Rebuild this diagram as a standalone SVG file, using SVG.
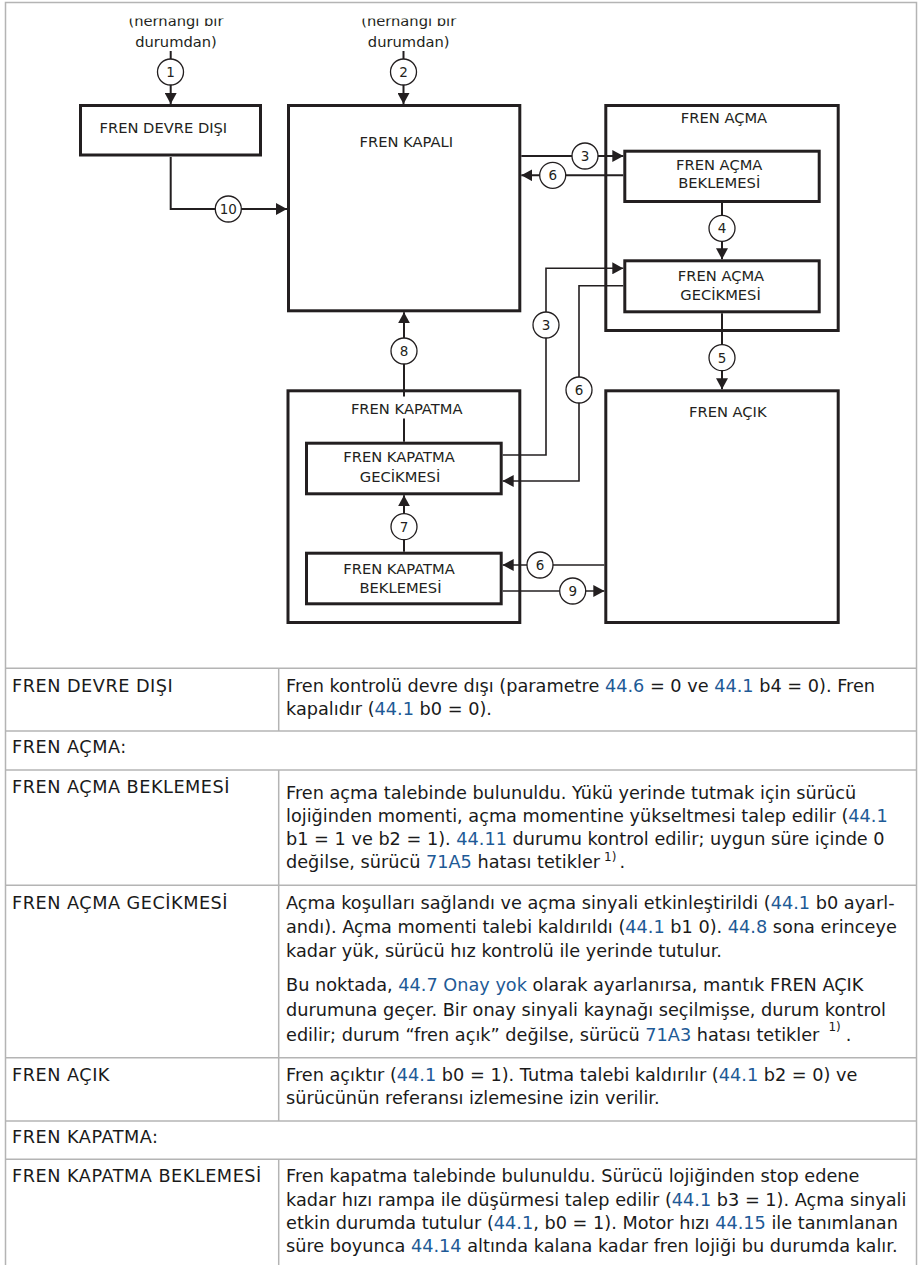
<svg xmlns="http://www.w3.org/2000/svg" width="919" height="1265" viewBox="0 0 919 1265">
<defs>
<style>
.box{fill:#fff;stroke:#231f20;stroke-width:3}
.lbl{font-family:"DejaVu Sans",sans-serif;font-size:14.7px;fill:#231f20}
.mid{text-anchor:middle}
.c{fill:#fff;stroke:#231f20;stroke-width:1.3}
.num{font-family:"DejaVu Sans",sans-serif;font-size:13.5px;text-anchor:middle;fill:#231f20}
.ln{fill:none;stroke:#231f20;stroke-width:2}
.ln2{fill:none;stroke:#231f20;stroke-width:1.6}
.grid{stroke:#b4b4b4;stroke-width:1.5;fill:none}
.t{font-family:"DejaVu Sans",sans-serif;font-size:17.7px;fill:#1a1a1a}
.h{letter-spacing:0.5px}
.lk{fill:#1e5a96}
</style>
<marker id="ah" markerUnits="userSpaceOnUse" markerWidth="11" markerHeight="12" refX="11" refY="6" orient="auto" viewBox="0 0 11 12"><path d="M0,0 L11,6 L0,12 z" fill="#231f20"/></marker>
<clipPath id="clipTop"><rect x="0" y="18.5" width="919" height="60"/></clipPath>
</defs>
<rect x="0" y="0" width="919" height="1265" fill="#fff"/>

<!-- frame and table grid -->
<g id="frame" class="grid">
<rect x="5.5" y="2.5" width="911" height="1275"/>
<line x1="5" y1="668.3" x2="917" y2="668.3"/>
<line x1="5" y1="731" x2="917" y2="731"/>
<line x1="5" y1="770" x2="917" y2="770"/>
<line x1="5" y1="885.3" x2="917" y2="885.3"/>
<line x1="5" y1="1057.7" x2="917" y2="1057.7"/>
<line x1="5" y1="1121" x2="917" y2="1121"/>
<line x1="5" y1="1159.3" x2="917" y2="1159.3"/>
<line x1="278.7" y1="668.3" x2="278.7" y2="731"/>
<line x1="278.7" y1="770" x2="278.7" y2="1121"/>
<line x1="278.7" y1="1159.3" x2="278.7" y2="1265"/>
</g>

<!-- source labels -->
<g id="sources" class="lbl mid">
<text x="176" y="26" clip-path="url(#clipTop)">(herhangi bir</text>
<text x="176" y="46.7">durumdan)</text>
<text x="408.7" y="26" clip-path="url(#clipTop)">(herhangi bir</text>
<text x="408.7" y="46.7">durumdan)</text>
</g>

<!-- nodes -->
<g id="n-devre-disi">
<rect class="box" x="80.5" y="105.5" width="180" height="49.5"/>
<text class="lbl" x="99.5" y="132.7">FREN DEVRE DIŞI</text>
</g>
<g id="n-kapali">
<rect class="box" x="288.5" y="105.5" width="231.3" height="205.3"/>
<text class="lbl" x="359.5" y="146.7">FREN KAPALI</text>
</g>
<g id="n-acma">
<rect class="box" x="605.8" y="105.5" width="232.4" height="225"/>
<text class="lbl mid" x="724" y="123.3">FREN AÇMA</text>
</g>
<g id="n-acma-beklemesi">
<rect class="box" x="624.8" y="151.2" width="194.4" height="50.3"/>
<text class="lbl mid" x="719.2" y="170">FREN AÇMA</text>
<text class="lbl mid" x="719.2" y="188.3">BEKLEMESİ</text>
</g>
<g id="n-acma-gecikmesi">
<rect class="box" x="624.8" y="260.8" width="194.4" height="51"/>
<text class="lbl mid" x="721" y="281">FREN AÇMA</text>
<text class="lbl mid" x="720.5" y="300">GECİKMESİ</text>
</g>
<g id="n-acik">
<rect class="box" x="605.8" y="390.8" width="232.4" height="231.7"/>
<text class="lbl mid" x="727.8" y="416.7">FREN AÇIK</text>
</g>
<g id="n-kapatma">
<rect class="box" x="288" y="390.8" width="231.8" height="231.7"/>
</g>
<g id="n-kapatma-gecikmesi">
<rect class="box" x="306.5" y="443.2" width="194.7" height="50.6"/>
<text class="lbl mid" x="399" y="462.3">FREN KAPATMA</text>
<text class="lbl mid" x="400" y="481.7">GECİKMESİ</text>
</g>
<g id="n-kapatma-beklemesi">
<rect class="box" x="306.5" y="553.2" width="194.7" height="50.6"/>
<text class="lbl mid" x="399" y="574">FREN KAPATMA</text>
<text class="lbl mid" x="400.5" y="593.3">BEKLEMESİ</text>
</g>

<!-- connectors -->
<g id="connectors">
<g id="c1"><path class="ln" d="M170.7,51 V104" marker-end="url(#ah)"/><circle class="c" cx="170.5" cy="72" r="13"/><text class="num" x="170.5" y="77">1</text></g>
<g id="c2"><path class="ln" d="M403.5,51 V104" marker-end="url(#ah)"/><circle class="c" cx="403.5" cy="72" r="13"/><text class="num" x="403.5" y="77">2</text></g>
<g id="c10"><path class="ln" d="M170.7,157 V209 H287" marker-end="url(#ah)"/><circle class="c" cx="228.3" cy="209" r="13"/><text class="num" x="228.3" y="214">10</text></g>
<g id="c3a"><path class="ln" d="M521.3,156 H623.3" marker-end="url(#ah)"/><circle class="c" cx="585" cy="156" r="13"/><text class="num" x="585" y="161">3</text></g>
<g id="c6a"><path class="ln" d="M623.3,175.3 H521.3" marker-end="url(#ah)"/><circle class="c" cx="552.7" cy="175.3" r="13"/><text class="num" x="552.7" y="180.3">6</text></g>
<g id="c4"><path class="ln" d="M722,203 V259.3" marker-end="url(#ah)"/><circle class="c" cx="722" cy="228.3" r="13"/><text class="num" x="722" y="233.3">4</text></g>
<g id="c5"><path class="ln" d="M722,313.3 V389.3" marker-end="url(#ah)"/><circle class="c" cx="722" cy="357.7" r="13"/><text class="num" x="722" y="362.7">5</text></g>
<g id="c8"><path class="ln" d="M404,441.7 V418.5 M404,396.5 V312.3" marker-end="url(#ah)"/><circle class="c" cx="404" cy="351" r="13"/><text class="num" x="404" y="356">8</text>
<text class="lbl mid" x="406.7" y="414">FREN KAPATMA</text></g>
<g id="c7"><path class="ln" d="M404,551.7 V495.3" marker-end="url(#ah)"/><circle class="c" cx="404" cy="526.7" r="13"/><text class="num" x="404" y="531.7">7</text></g>
<g id="c3b"><path class="ln2" d="M502.7,455 H546 V268.3 H623.3" marker-end="url(#ah)"/><circle class="c" cx="546" cy="325" r="13"/><text class="num" x="546" y="330">3</text></g>
<g id="c6b"><path class="ln2" d="M623.3,285.7 H579 V481 H502.7" marker-end="url(#ah)"/><circle class="c" cx="579" cy="390" r="13"/><text class="num" x="579" y="395">6</text></g>
<g id="c6c"><path class="ln2" d="M604.3,565 H502.7" marker-end="url(#ah)"/><circle class="c" cx="540" cy="565" r="13"/><text class="num" x="540" y="570">6</text></g>
<g id="c9"><path class="ln2" d="M502.7,591 H604.3" marker-end="url(#ah)"/><circle class="c" cx="572.7" cy="591" r="13"/><text class="num" x="572.7" y="596">9</text></g>
</g>

<!-- table text -->
<g id="table" class="t">
<text class="h" x="12" y="691.7">FREN DEVRE DIŞI</text>
<text x="286" y="691.7">Fren kontrolü devre dışı (parametre <tspan class="lk">44.6</tspan> = 0 ve <tspan class="lk">44.1</tspan> b4 = 0). Fren</text>
<text x="286" y="715">kapalıdır (<tspan class="lk">44.1</tspan> b0 = 0).</text>

<text class="h" x="12" y="752.7">FREN AÇMA:</text>

<text class="h" x="12" y="793.3">FREN AÇMA BEKLEMESİ</text>
<text x="286" y="799">Fren açma talebinde bulunuldu. Yükü yerinde tutmak için sürücü</text>
<text x="286" y="822">lojiğinden momenti, açma momentine yükseltmesi talep edilir (<tspan class="lk">44.1</tspan></text>
<text x="286" y="845">b1 = 1 ve b2 = 1). <tspan class="lk">44.11</tspan> durumu kontrol edilir; uygun süre içinde 0</text>
<text x="286" y="868">değilse, sürücü <tspan class="lk">71A5</tspan> hatası tetikler<tspan dx="4" dy="-7" font-size="12">1)</tspan><tspan dx="3" dy="7">.</tspan></text>

<text class="h" x="12" y="909.3">FREN AÇMA GECİKMESİ</text>
<text x="286" y="909.3">Açma koşulları sağlandı ve açma sinyali etkinleştirildi (<tspan class="lk">44.1</tspan> b0 ayarl-</text>
<text x="286" y="933">andı). Açma momenti talebi kaldırıldı (<tspan class="lk">44.1</tspan> b1 0). <tspan class="lk">44.8</tspan> sona erinceye</text>
<text x="286" y="956.7">kadar yük, sürücü hız kontrolü ile yerinde tutulur.</text>
<text x="286" y="991">Bu noktada, <tspan class="lk">44.7 Onay yok</tspan> olarak ayarlanırsa, mantık FREN AÇIK</text>
<text x="286" y="1016">durumuna geçer. Bir onay sinyali kaynağı seçilmişse, durum kontrol</text>
<text x="286" y="1041">edilir; durum “fren açık” değilse, sürücü <tspan class="lk">71A3</tspan> hatası tetikler<tspan dx="9" dy="-10" font-size="12">1)</tspan><tspan dx="5" dy="10">.</tspan></text>

<text class="h" x="12" y="1081">FREN AÇIK</text>
<text x="286" y="1081">Fren açıktır (<tspan class="lk">44.1</tspan> b0 = 1). Tutma talebi kaldırılır (<tspan class="lk">44.1</tspan> b2 = 0) ve</text>
<text x="286" y="1104.3">sürücünün referansı izlemesine izin verilir.</text>

<text class="h" x="12" y="1143.3">FREN KAPATMA:</text>

<text class="h" x="12" y="1182.3">FREN KAPATMA BEKLEMESİ</text>
<text x="286" y="1182.3">Fren kapatma talebinde bulunuldu. Sürücü lojiğinden stop edene</text>
<text x="286" y="1205.7">kadar hızı rampa ile düşürmesi talep edilir (<tspan class="lk">44.1</tspan> b3 = 1). Açma sinyali</text>
<text x="286" y="1229">etkin durumda tutulur (<tspan class="lk">44.1</tspan>, b0 = 1). Motor hızı <tspan class="lk">44.15</tspan> ile tanımlanan</text>
<text x="286" y="1252">süre boyunca <tspan class="lk">44.14</tspan> altında kalana kadar fren lojiği bu durumda kalır.</text>
</g>
</svg>
